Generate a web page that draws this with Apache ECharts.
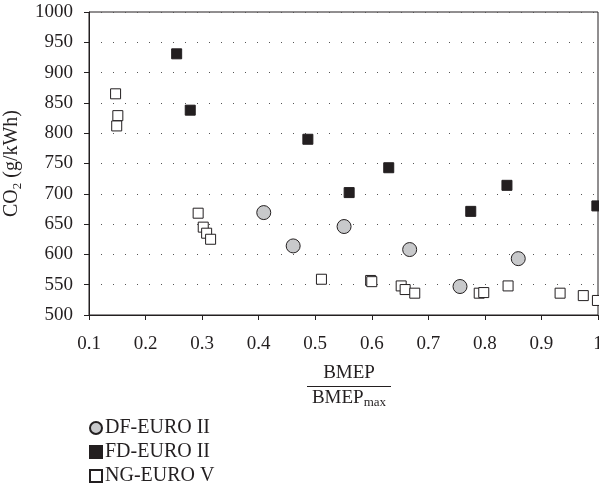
<!DOCTYPE html>
<html><head><meta charset="utf-8">
<script src="https://cdn.jsdelivr.net/npm/echarts@6/dist/echarts.min.js"></script>
<style>html,body{margin:0;padding:0;background:#fff}#c{width:599px;height:488px}</style>
</head><body><div id="c"></div>
<script>
const seriesNames = ['DF-EURO II', 'FD-EURO II', 'NG-EURO V'];
const dfX = [0.409, 0.461, 0.551, 0.667, 0.756, 0.859];
const dfY = [669, 614, 646, 608, 547, 593];
const fdX = [0.255, 0.279, 0.487, 0.560, 0.630, 0.775, 0.839, 0.998];
const fdY = [931, 838, 790, 702, 743, 671, 714, 680];
const ngX = [0.147, 0.151, 0.149, 0.293, 0.302, 0.308, 0.315, 0.511, 0.598, 0.600, 0.652, 0.659, 0.676, 0.790, 0.798, 0.841, 0.933, 0.974, 0.999];
const ngY = [865, 829, 812, 668, 645, 635, 625, 559, 557, 555, 548, 542, 536, 536, 537, 548, 536, 532, 524];
const yTicks = [500, 550, 600, 650, 700, 750, 800, 850, 900, 950, 1000];
const xTicks = [0.1, 0.2, 0.3, 0.4, 0.5, 0.6, 0.7, 0.8, 0.9, 1];

const ink = '#231f20';
const font = "'Liberation Serif', 'DejaVu Serif', serif";
const zip = (xs, ys) => xs.map((x, i) => [x, ys[i]]);

const chart = echarts.init(document.getElementById('c'));
chart.setOption({
  animation: false,
  textStyle: { fontFamily: font, color: ink },
  grid: { left: 89, right: 1, top: 12, bottom: 173, show: true, borderColor: ink, borderWidth: 1,
          containLabel: false, outerBoundsMode: 'none' },
  xAxis: {
    type: 'value', min: xTicks[0], max: xTicks[xTicks.length - 1], interval: 0.1,
    axisLine: { show: true, onZero: false, lineStyle: { color: ink, width: 1 } },
    axisTick: { show: true, inside: false, length: 5, lineStyle: { color: ink } },
    axisLabel: { margin: 20, fontSize: 19, fontFamily: font, color: ink,
      formatter: v => String(Math.round(v * 10) / 10) },
    splitLine: { show: false }
  },
  yAxis: {
    type: 'value', min: yTicks[0], max: yTicks[yTicks.length - 1], interval: 50,
    axisLine: { show: true, lineStyle: { color: ink, width: 1 } },
    axisTick: { show: true, inside: false, length: 5, lineStyle: { color: ink } },
    axisLabel: { margin: 16, fontSize: 19, fontFamily: font, color: ink, formatter: v => String(v) },
    splitLine: { show: true, lineStyle: { color: '#555', width: 1, type: [1, 11] } },
    name: '{m|CO}{s|2}{m| (g/kWh)}',
    nameLocation: 'middle', nameGap: 56, nameRotate: 90,
    nameTextStyle: {
      fontFamily: font, color: ink,
      rich: {
        m: { fontSize: 20, fontFamily: font, color: ink, lineHeight: 24, verticalAlign: 'middle' },
        s: { fontSize: 13, fontFamily: font, color: ink, lineHeight: 24, verticalAlign: 'bottom' }
      }
    }
  },
  legend: {
    orient: 'vertical', left: 89, top: 418, padding: 0, itemGap: 4, itemWidth: 12, itemHeight: 12,
    textStyle: { fontSize: 20, lineHeight: 20, fontFamily: font, color: ink, padding: [0, 0, 0, -2] },
    data: seriesNames
  },
  graphic: [
    { type: 'text', x: 349, y: 373, style: { text: 'BMEP', font: '19px ' + font, fill: ink, align: 'center', verticalAlign: 'middle' } },
    { type: 'line', shape: { x1: 307, y1: 386.5, x2: 391, y2: 386.5 }, style: { stroke: ink, lineWidth: 1 } },
    { type: 'text', x: 349, y: 398, style: { text: '{m|BMEP}{s|max}', align: 'center', verticalAlign: 'middle', fill: ink,
      rich: { m: { fontSize: 19, fontFamily: font, fill: ink, lineHeight: 22, verticalAlign: 'middle' },
              s: { fontSize: 13, fontFamily: font, fill: ink, lineHeight: 22, verticalAlign: 'bottom' } } } }
  ],
  series: [
    { name: seriesNames[0], type: 'scatter', symbol: 'circle', symbolSize: 14, data: zip(dfX, dfY),
      itemStyle: { color: '#c8c9cb', borderColor: ink, borderWidth: 1, opacity: 1 }, z: 3 },
    { name: seriesNames[1], type: 'scatter', symbol: 'rect', symbolSize: 10, data: zip(fdX, fdY),
      itemStyle: { color: ink, borderColor: ink, borderWidth: 1, opacity: 1 }, z: 3 },
    { name: seriesNames[2], type: 'scatter', symbol: 'rect', symbolSize: 10, data: zip(ngX, ngY),
      itemStyle: { color: '#fff', borderColor: ink, borderWidth: 1, opacity: 1 }, z: 3 }
  ]
});
</script></body></html>
